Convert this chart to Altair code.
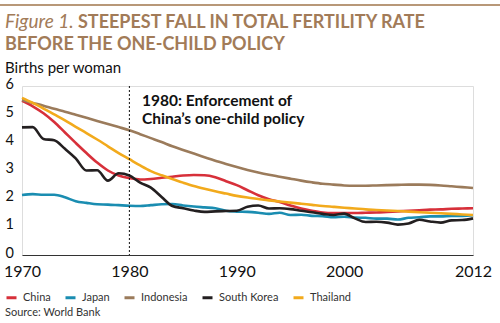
import altair as alt
import pandas as pd

years = list(range(1970, 2013))

china = [5.47, 5.28, 5.03, 4.72, 4.35, 3.98, 3.62, 3.28, 3.00, 2.82,
         2.73, 2.68, 2.70, 2.74, 2.78, 2.82, 2.84, 2.83, 2.76, 2.62,
         2.48, 2.30, 2.12, 1.98, 1.88, 1.76, 1.65, 1.57, 1.51, 1.49,
         1.49, 1.49, 1.50, 1.51, 1.53, 1.55, 1.57, 1.59, 1.61, 1.62,
         1.64, 1.65, 1.66]
japan = [2.13, 2.16, 2.14, 2.14, 2.05, 1.91, 1.85, 1.80, 1.79, 1.77,
         1.75, 1.74, 1.77, 1.80, 1.81, 1.76, 1.72, 1.69, 1.66, 1.57,
         1.54, 1.53, 1.50, 1.46, 1.50, 1.42, 1.43, 1.39, 1.38, 1.34,
         1.36, 1.33, 1.32, 1.29, 1.29, 1.26, 1.32, 1.34, 1.37, 1.37,
         1.39, 1.39, 1.41]
indonesia = [5.50, 5.40, 5.30, 5.19, 5.09, 4.98, 4.87, 4.76, 4.65, 4.54,
             4.43, 4.29, 4.15, 4.01, 3.86, 3.73, 3.60, 3.47, 3.35, 3.23,
             3.12, 3.02, 2.93, 2.85, 2.78, 2.71, 2.64, 2.58, 2.53, 2.50,
             2.47, 2.46, 2.46, 2.47, 2.48, 2.49, 2.50, 2.50, 2.49, 2.47,
             2.44, 2.41, 2.38]
south_korea = [4.53, 4.54, 4.12, 4.07, 3.77, 3.43, 3.00, 3.01, 2.64, 2.90,
               2.82, 2.57, 2.39, 2.06, 1.74, 1.66, 1.58, 1.53, 1.55, 1.56,
               1.57, 1.71, 1.76, 1.65, 1.66, 1.63, 1.57, 1.52, 1.46, 1.42,
               1.47, 1.30, 1.17, 1.18, 1.15, 1.08, 1.12, 1.25, 1.19, 1.15,
               1.23, 1.24, 1.30]
thailand = [5.58, 5.40, 5.20, 4.99, 4.78, 4.55, 4.33, 4.10, 3.86, 3.62,
            3.40, 3.18, 2.98, 2.83, 2.70, 2.57, 2.45, 2.35, 2.26, 2.18,
            2.10, 2.04, 1.99, 1.94, 1.90, 1.86, 1.82, 1.78, 1.74, 1.71,
            1.68, 1.65, 1.62, 1.60, 1.58, 1.56, 1.54, 1.52, 1.50, 1.48,
            1.46, 1.44, 1.42]

countries = ["China", "Japan", "Indonesia", "South Korea", "Thailand"]
colors = ["#d7303a", "#1a8db1", "#9b7b5b", "#231f20", "#f2aa1c"]
series = [china, japan, indonesia, south_korea, thailand]
x_ticks = [1970, 1980, 1990, 2000, 2012]
y_ticks = [0, 1, 2, 3, 4, 5, 6]

FONT = "Lato"
TITLE_COLOR = "#a27b58"

rows = []
for c, vals in zip(countries, series):
    for y, v in zip(years, vals):
        rows.append({"year": y, "value": v, "country": c})
df = pd.DataFrame(rows)

xs = alt.Scale(domain=[1970, 2012], nice=False, zero=False)
ys = alt.Scale(domain=[0, 6], nice=False)

x_axis = alt.Axis(
    values=x_ticks, format="d", title=None, grid=False, ticks=False, tickSize=0,
    labelFontSize=16, labelFont=FONT, labelColor="#111", labelPadding=8,
    labelFlush=False, labelOverlap=False, domainColor="#333", domainWidth=1)
y_axis = alt.Axis(
    values=y_ticks, format="d", title=None, grid=False, ticks=False, tickSize=0,
    domain=False, labelFontSize=14.5, labelFont=FONT, labelColor="#111",
    labelAlign="left", labelPadding=17, labelOverlap=False, labelFlush=False,
    labelOffset=-2)

lines = alt.Chart(df).mark_line(strokeWidth=2.6, interpolate="monotone").encode(
    x=alt.X("year:Q", scale=xs, axis=x_axis),
    y=alt.Y("value:Q", scale=ys, axis=y_axis),
    color=alt.Color("country:N", sort=countries,
                    scale=alt.Scale(domain=countries, range=colors),
                    legend=alt.Legend(orient="none", legendX=-17, legendY=205,
                                      direction="horizontal", title=None,
                                      symbolType="stroke", symbolStrokeWidth=3,
                                      symbolSize=100, labelFontSize=11, labelFont=FONT,
                                      labelColor="#333", columnPadding=8,
                                      labelOffset=5, padding=0)),
    order=alt.Order("year:Q"),
)

rule_df = pd.DataFrame({"year": [1980], "lo": [0], "hi": [6]})
vrule = alt.Chart(rule_df).mark_rule(strokeDash=[2, 2], strokeWidth=1, color="#111").encode(
    x=alt.X("year:Q", scale=xs, axis=x_axis),
    y=alt.Y("hi:Q", scale=ys, axis=y_axis),
    y2="lo:Q")


def txt(text, x, y, size, weight="normal", style="normal", color="#111", font=FONT):
    return alt.Chart(pd.DataFrame({"t": [text]})).mark_text(
        align="left", baseline="alphabetic", fontSize=size, fontWeight=weight,
        fontStyle=style, color=color, font=font).encode(
        text="t:N", x=alt.value(x), y=alt.value(y))


# thin brown rule across the top of the figure
top_rule = alt.Chart(pd.DataFrame({"a": [0]})).mark_text(
    text="_" * 200, fontSize=1, opacity=0).encode(x=alt.value(0), y=alt.value(0))
top_line = alt.Chart(pd.DataFrame({"a": [0]})).mark_rule(
    color="#b89878", strokeWidth=2, strokeCap="butt").encode(
    x=alt.value(-22), x2=alt.value(478), y=alt.value(-81), y2=alt.value(-81))

t1 = txt("Figure 1.", -17, -58, 19, style="italic", color=TITLE_COLOR)
t2 = txt("STEEPEST FALL IN TOTAL FERTILITY RATE", 56, -58, 18, weight="bold", color=TITLE_COLOR)
t3 = txt("BEFORE THE ONE-CHILD POLICY", -17, -36, 18, weight="bold", color=TITLE_COLOR)
t4 = txt("Births per woman", -17, -13, 15)
ann = alt.Chart(pd.DataFrame({"t": [["1980: Enforcement of", "China\u2019s one-child policy"]]})).mark_text(
    align="left", baseline="alphabetic", fontSize=15.5, fontWeight="bold", font=FONT,
    color="#111", lineHeight=17.5).encode(text="t", x=alt.value(120), y=alt.value(20))
src = txt("Source: World Bank", -17, 230, 11, color="#333")

chart = alt.layer(lines, vrule, top_line, t1, t2, t3, t4, ann, src).properties(
    width=451, height=169,
    autosize=alt.AutoSizeParams(type="none"),
    padding={"left": 22, "top": 86, "right": 27, "bottom": 68},
).configure_view(stroke=None).configure(background="white")

chart.save("out.html", embed_options={"renderer": "svg", "actions": False})
